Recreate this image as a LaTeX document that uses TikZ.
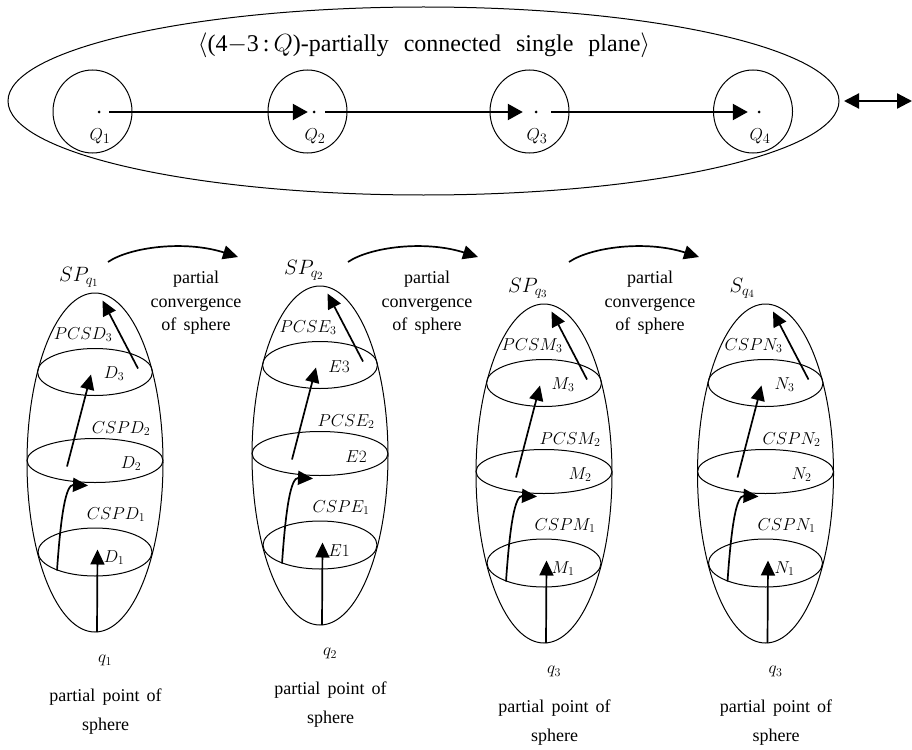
\documentclass[tikz,border=0pt]{standalone}
\usepackage{fontspec}
\setmainfont{Liberation Serif}[WordSpace={1.6}]
\usetikzlibrary{arrows.meta}
\begin{document}
\begin{tikzpicture}[x=1pt,y=-1pt,
  outline/.style={draw, line width=1pt},
  arr/.style={line width=1.7pt,-{Triangle[length=15pt,width=14pt]}},
  toparr/.style={line width=2.2pt,-{Triangle[length=15pt,width=16pt]}},
  lbl/.style={font=\fontsize{18}{23.5}\selectfont, inner sep=0pt, align=center},
  mlbl/.style={font=\fontsize{18}{22}\selectfont, inner sep=0pt},
  biglbl/.style={font=\fontsize{22}{26}\selectfont, inner sep=0pt},
  dotnode/.style={circle, fill, inner sep=0pt, minimum size=3pt},
]
\useasboundingbox (0,0) rectangle (912,749);
\fill[white] (0,0) rectangle (912,749);

% ---------- top plane ----------
\draw[outline] (423.5,101) ellipse [x radius=415.5, y radius=94];
\node[font=\fontsize{24}{26}\selectfont, inner sep=0pt] (title) at (424,45)
  {$\langle$(4$-$3\,:\,$Q$)-partially\hspace{15pt}connected\hspace{15pt}single\hspace{15pt}plane$\rangle$};

\foreach \i/\cx/\dx in {1/92.5/99, 2/307.5/314, 3/529.5/536, 4/753/759} {
  \draw[outline] (\cx,111.5) ellipse [x radius=39.5, y radius=41.5];
  \node[dotnode] (Q\i) at (\dx,112) {};
  \node[font=\fontsize{19}{22}\selectfont, inner sep=0pt] (QL\i) at (\dx+1,136) {$Q_\i$};
}
\draw[toparr, shorten <=8.5pt, shorten >=4.5pt] (Q1) -- (Q2);
\draw[toparr, shorten <=9.5pt, shorten >=11.5pt] (Q2) -- (Q3);
\draw[toparr, shorten <=13.5pt, shorten >=9.5pt] (Q3) -- (Q4);

\coordinate (da1) at (844,101);
\coordinate (da2) at (912,101);
\draw[line width=2.2pt,{Triangle[length=15pt,width=15pt]}-{Triangle[length=15pt,width=15pt]}] (da1) -- (da2);

% ---------- convergence arrows ----------
\foreach \k/\sx in {1/0, 2/240, 3/461} {
  \coordinate (cva\k) at (108+\sx,262);
  \coordinate (cvb\k) at (238+\sx,257);
  \draw[arr] (cva\k) .. controls (130+\sx,247) and (185+\sx,240) .. (cvb\k);
}
\node[lbl] (conv1) at (196,303) {partial\\convergence\\of sphere};
\node[lbl] (conv2) at (427,303) {partial\\convergence\\of sphere};
\node[lbl] (conv3) at (650,303) {partial\\convergence\\of sphere};

% ---------- spheres ----------
\foreach \n/\cx/\cy/\T/\La/\Ra/\Lb/\Rb/\Lc/\Rc/\q in {
  1/95/462.5/{$SP_{q_1}$}/{$PCSD_3$}/{$D_3$}/{$CSPD_2$}/{$D_2$}/{$CSPD_1$}/{$D_1$}/{$q_1$},
  2/320/455.5/{$SP_{q_2}$}/{$PCSE_3$}/{$E3$}/{$PCSE_2$}/{$E2$}/{$CSPE_1$}/{$E1$}/{$q_2$},
  3/544/473.5/{$SP_{q_3}$}/{$PCSM_3$}/{$M_3$}/{$PCSM_2$}/{$M_2$}/{$CSPM_1$}/{$M_1$}/{$q_3$},
  4/765.5/473.5/{$S_{q_4}$}/{$CSPN_3$}/{$N_3$}/{$CSPN_2$}/{$N_2$}/{$CSPN_1$}/{$N_1$}/{$q_3$}} {
  \begin{scope}[shift={(\cx,\cy)}]
    \draw[outline] (0,0) ellipse [x radius=68, y radius=169.5];
    \draw[outline] (0,-90.5) ellipse [x radius=57.5, y radius=23.5];
    \draw[outline] (0,-2) ellipse [x radius=68, y radius=22];
    \draw[outline] (0,89.5) ellipse [x radius=57, y radius=24];
    % arrows
    \coordinate (s\n-b) at (2,169.5);
    \coordinate (s\n-t) at (2.5,87);
    \draw[arr] (s\n-b) -- (s\n-t);
    \coordinate (s\n-c0) at (-38,108);
    \coordinate (s\n-c1) at (-7,23);
    \draw[arr] (s\n-c0) .. controls (-34,50) and (-29,22) .. (s\n-c1);
    \coordinate (s\n-s0) at (-28,4);
    \coordinate (s\n-s1) at (-4,-88);
    \draw[arr] (s\n-s0) -- (s\n-s1);
    \coordinate (s\n-u0) at (43,-94);
    \coordinate (s\n-u1) at (7.5,-162);
    \draw[arr] (s\n-u0) -- (s\n-u1);
    % labels
    \node[biglbl, anchor=base west] (s\n-name) at (-36,-181) {\T};
    \node[mlbl] (s\n-l3) at (-12,-128) {\La};
    \node[mlbl] (s\n-r3) at (19,-89) {\Ra};
    \node[mlbl] (s\n-l2) at (26,-34) {\Lb};
    \node[mlbl] (s\n-r2) at (36,1) {\Rb};
    \node[mlbl] (s\n-l1) at (21,52) {\Lc};
    \node[mlbl] (s\n-r1) at (19,95) {\Rc};
    \node[mlbl] (s\n-q) at (10,198) {\q};
    \node[lbl, font=\fontsize{18}{29}\selectfont] (s\n-pp) at (10.5,249.5) {partial point of\\sphere};
  \end{scope}
}
\end{tikzpicture}
\end{document}
